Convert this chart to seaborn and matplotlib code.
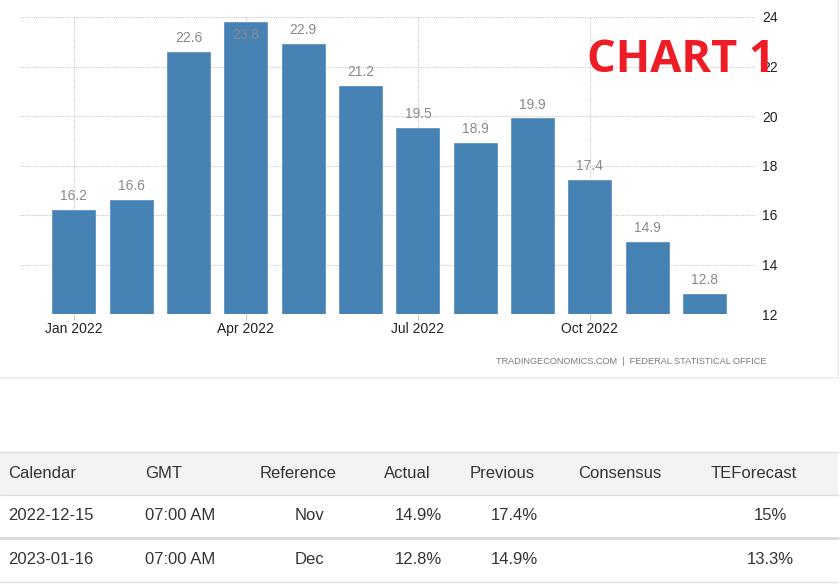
import matplotlib
matplotlib.use("Agg")
import matplotlib.pyplot as plt
import seaborn as sns
import pandas as pd
from matplotlib.patches import Rectangle
from matplotlib.lines import Line2D

# ---- data ----
months = ["Jan 2022", "Feb 2022", "Mar 2022", "Apr 2022", "May 2022", "Jun 2022",
          "Jul 2022", "Aug 2022", "Sep 2022", "Oct 2022", "Nov 2022", "Dec 2022"]
values = [16.2, 16.6, 22.6, 23.8, 22.9, 21.2, 19.5, 18.9, 19.9, 17.4, 14.9, 12.8]
shown_ticks = ["Jan 2022", "Apr 2022", "Jul 2022", "Oct 2022"]
y_ticks = [12, 14, 16, 18, 20, 22, 24]

table_header = ["Calendar", "GMT", "Reference", "Actual", "Previous", "Consensus", "TEForecast"]
cal_dates = ["2022-12-15", "2023-01-16"]
cal_gmt = ["07:00 AM", "07:00 AM"]
cal_ref = ["Nov", "Dec"]
cal_actual = ["14.9%", "12.8%"]
cal_previous = ["17.4%", "14.9%"]
cal_consensus = ["", ""]
cal_forecast = ["15%", "13.3%"]

source_text = "TRADINGECONOMICS.COM  |  FEDERAL STATISTICAL OFFICE"
stamp_text = "CHART 1"

W, H = 840, 586
def fx(x): return x / W
def fy(y): return 1 - y / H

sns.set_theme(style="white")
plt.rcParams['font.family'] = ['Liberation Sans', 'DejaVu Sans']

fig = plt.figure(figsize=(8.4, 5.86), dpi=100)
fig.patch.set_facecolor("white")

ax_l, ax_r, ax_t, ax_b = 20, 755, 17, 314
ax = fig.add_axes([fx(ax_l), fy(ax_b), (ax_r - ax_l) / W, (ax_b - ax_t) / H])

df = pd.DataFrame({"month": months, "value": values})
sns.barplot(data=df, x="month", y="value", color="#4682b4", saturation=1,
            width=0.75, edgecolor="#5b92c4", linewidth=0.6, ax=ax)

ax.set_ylim(y_ticks[0], y_ticks[-1])
ax.set_xlim(-0.94, 11.88)
ax.set_xlabel("")
ax.set_ylabel("")
for s in ax.spines.values():
    s.set_visible(False)

ax.yaxis.tick_right()
ax.set_yticks(y_ticks)
ax.set_yticklabels([str(t) for t in y_ticks], fontsize=10, color="#222222")
ax.tick_params(axis="y", length=0, pad=5)

tick_pos = [months.index(m) for m in shown_ticks]
ax.set_xticks(tick_pos)
ax.set_xticklabels(shown_ticks, fontsize=10, color="#222222")
ax.tick_params(axis="x", length=4, width=0.8, color="#cccccc", pad=2, bottom=True)

ax.grid(True, axis="both", linestyle=(0, (1, 1)), color="#c8c8c8", linewidth=0.8)
ax.set_axisbelow(True)

for i, v in enumerate(values):
    if v + 0.9 > y_ticks[-1]:
        ax.annotate(f"{v}", (i, v), xytext=(0, -4), textcoords="offset points",
                    ha="center", va="top", fontsize=10, color="#8a8a8a")
    else:
        ax.annotate(f"{v}", (i, v), xytext=(0, 5), textcoords="offset points",
                    ha="center", va="bottom", fontsize=10, color="#8a8a8a")

# stamp
fig.text(fx(681), fy(61), stamp_text, fontsize=32.5, fontweight="bold",
         family=["Open Sans", "DejaVu Sans"], color="#ee1c25", ha="center", va="center")

# source
fig.text(fx(767), fy(361), source_text, fontsize=6.6, color="#7a7a7a",
         ha="right", va="center")

# chart panel border (light)
fig.add_artist(Line2D([0, fx(838)], [fy(378), fy(378)], color="#eeeeee", lw=1.2))
fig.add_artist(Line2D([fx(838), fx(838)], [fy(0), fy(378)], color="#eeeeee", lw=1.2))

# table
fig.add_artist(Rectangle((0, fy(495)), fx(838), (495 - 452) / H,
                         facecolor="#f3f3f3", edgecolor="none"))
fig.add_artist(Line2D([0, fx(838)], [fy(452), fy(452)], color="#dddddd", lw=1))
fig.add_artist(Line2D([0, fx(838)], [fy(495), fy(495)], color="#dddddd", lw=1))
fig.add_artist(Line2D([0, fx(838)], [fy(538), fy(538)], color="#d8d8d8", lw=2))
fig.add_artist(Line2D([0, fx(838)], [fy(582), fy(582)], color="#dddddd", lw=1))

header_x = [8, 145, 260, 384, 470, 578, 711]
for t, x in zip(table_header, header_x):
    fig.text(fx(x), fy(473), t, fontsize=12, color="#333333", ha="left", va="center")

row_y = [516, 559]
for r in range(2):
    y = fy(row_y[r])
    fig.text(fx(8), y, cal_dates[r], fontsize=12, color="#333333", ha="left", va="center")
    fig.text(fx(145), y, cal_gmt[r], fontsize=12, color="#333333", ha="left", va="center")
    fig.text(fx(309), y, cal_ref[r], fontsize=12, color="#333333", ha="center", va="center")
    fig.text(fx(418), y, cal_actual[r], fontsize=12, color="#333333", ha="center", va="center")
    fig.text(fx(514), y, cal_previous[r], fontsize=12, color="#333333", ha="center", va="center")
    fig.text(fx(620), y, cal_consensus[r], fontsize=12, color="#333333", ha="center", va="center")
    fig.text(fx(770), y, cal_forecast[r], fontsize=12, color="#333333", ha="center", va="center")

fig.savefig("out.png", dpi=100, facecolor="white")
